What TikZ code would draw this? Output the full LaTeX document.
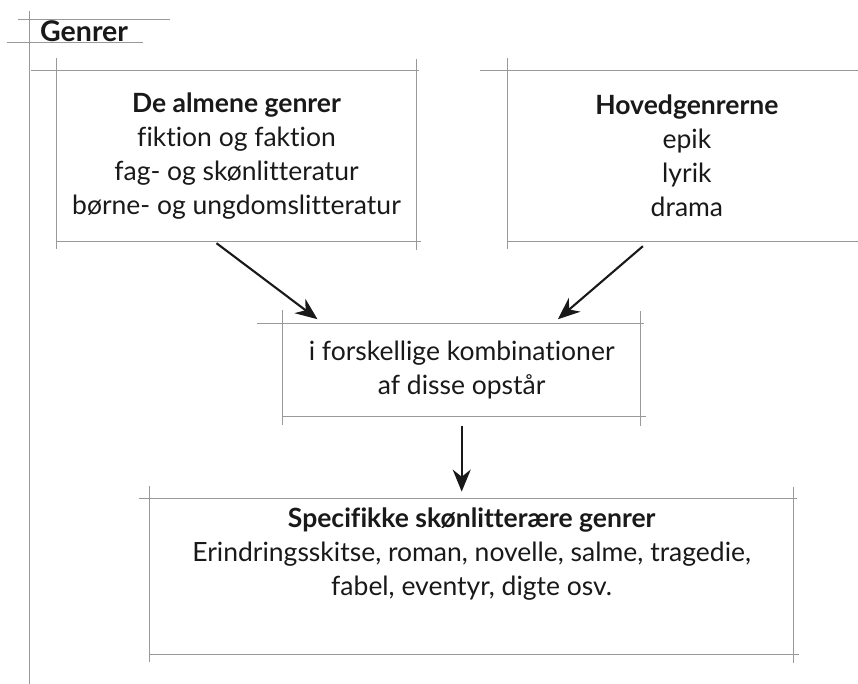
\documentclass[tikz,border=0pt]{standalone}
\usepackage{fontspec}
\setmainfont{Lato}[Ligatures=NoCommon]
\usetikzlibrary{arrows.meta,positioning,calc}
\definecolor{rammegraa}{gray}{0.6}
\definecolor{tekstsort}{gray}{0.1}
\tikzset{genreboks/.style={
    % The shape:
    rectangle,
    % The size:
    minimum width=359pt,
    minimum height=170pt,
    inner sep=6pt,
    % Font
    align=center,
    text=tekstsort,
    font=\fontsize{26.5}{34}\selectfont
    },
    rammelinje/.style={
    draw=rammegraa,
    line width=0.9pt,
    },
    pil/.style={
    draw=black!90,
    line width=2.1pt,
    -{Stealth[length=22pt,width=18pt]},
    },
    overskrift/.style={
    font=\fontsize{28.5}{34}\selectfont\bfseries,
    text=tekstsort,
    inner sep=0pt,
    },
}
% frame whose lines run past the corners
\newcommand{\ramme}[2]{%
  \draw[rammelinje] ([xshift=-#2]#1.north west) -- ([xshift=3pt]#1.north east);
  \draw[rammelinje] (#1.south west) -- ([xshift=5pt]#1.south east);
  \draw[rammelinje] ([yshift=13pt]#1.north west) -- ([yshift=-8pt]#1.south west);
  \draw[rammelinje] ([yshift=12pt]#1.north east) -- ([yshift=-9pt]#1.south east);
}

\begin{document}
\begin{tikzpicture}[x=1pt,y=-1pt]
  \useasboundingbox (0,0) rectangle (858,684);
  \clip (0,0) rectangle (858,684);

  % heading
  \node (titel) [overskrift,anchor=base west] at (40,42) {Genrer};
  \draw[rammelinje] (18,19) -- (170,19);
  \draw[rammelinje] (7,42) -- (143,42);
  \draw[rammelinje] (29,11) -- (29,684);

  \node (almen) [genreboks] at (236.5,156)
    {\textbf{De almene genrer}\\fiktion og faktion\\fag- og skønlitteratur\\børne- og ungdomslitteratur};
  \node (hoved) [genreboks,right=91pt of almen]
    {\textbf{Hovedgenrerne}\\epik\\lyrik\\drama};
  \coordinate (mellem) at ($(almen.south)!0.5!(hoved.south)$);
  \node (komb) [genreboks,minimum width=358pt,minimum height=93pt,below=82pt of mellem]
    {i forskellige kombinationer\\af disse opstår};
  \node (spec) [genreboks,minimum width=644pt,minimum height=155pt,text depth=50pt,below=82pt of komb,xshift=10pt]
    {\textbf{Specifikke skønlitterære genrer}\\Erindringsskitse, roman, novelle, salme, tragedie,\\fabel, eventyr, digte osv.};

  \ramme{almen}{26pt}
  \ramme{hoved}{27pt}
  \ramme{komb}{26pt}
  \ramme{spec}{11pt}

  \draw[pil] ([xshift=-20pt,yshift=-2pt]almen.south) -- ([xshift=35pt,yshift=4pt]komb.north west);
  \draw[pil] ([xshift=-44pt,yshift=-5pt]hoved.south) -- ([xshift=-83pt,yshift=4pt]komb.north east);
  \draw[pil] ([yshift=-9pt]komb.south) -- ($(komb.south |- spec.north)+(0,-7)$);
\end{tikzpicture}
\end{document}
